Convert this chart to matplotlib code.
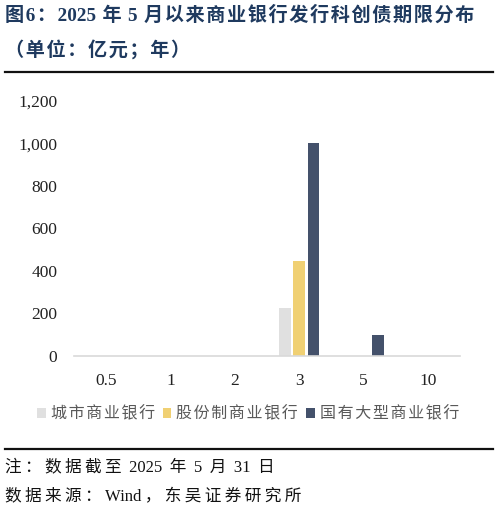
import numpy as np
import matplotlib
matplotlib.use("Agg")
import matplotlib.pyplot as plt
from matplotlib.lines import Line2D

plt.rcParams['font.family'] = ['Liberation Serif', 'Noto Sans CJK SC', 'DejaVu Sans']

# 数据
terms = ['0.5', '1', '2', '3', '5', '10']
city_banks = [0, 0, 0, 227, 0, 0]        # 城市商业银行
joint_stock = [0, 0, 0, 447, 0, 0]       # 股份制商业银行
state_owned = [0, 0, 0, 1000, 100, 0]    # 国有大型商业银行
series_names = ['城市商业银行', '股份制商业银行', '国有大型商业银行']
yticks = [0, 200, 400, 600, 800, 1000, 1200]

colors = ['#e0e0e0', '#f0d073', '#44516b']
navy = '#1f3a5f'


def spaced(s, sp):
    # 中文字符之间加字间距，数字和字母保持紧凑
    out = s[0]
    for a, b in zip(s, s[1:]):
        if not (a.isascii() and b.isascii()):
            out += sp
        out += b
    return out


fig = plt.figure(figsize=(4.99, 5.11), dpi=100)
ax = fig.add_axes([0.148, 0.3033, 0.774, 0.4994])

x = np.arange(len(terms))
w = 0.18
step = 0.222
for i, (vals, c, name) in enumerate(zip([city_banks, joint_stock, state_owned], colors, series_names)):
    ax.bar(x + (i - 1) * step, vals, width=w, color=c, label=spaced(name, '\u200a'), zorder=2)

ax.set_xlim(-0.5, len(terms) - 0.5)
ax.set_ylim(0, 1200)
ax.set_yticks(yticks)
ax.set_yticklabels([f'{v:,}' for v in yticks])
ax.set_xticks(x)
ax.set_xticklabels(terms)
ax.tick_params(axis='both', length=0, labelsize=12.5, labelcolor='#222222')
ax.tick_params(axis='x', pad=12)
ax.tick_params(axis='y', pad=12)
for s in ['top', 'right', 'left']:
    ax.spines[s].set_visible(False)
ax.spines['bottom'].set_color('#d9d9d9')
ax.spines['bottom'].set_linewidth(1.2)

leg = ax.legend(loc='center', bbox_to_anchor=(248 / 499, 1 - 414 / 511),
                bbox_transform=fig.transFigure, ncol=3, frameon=False,
                handlelength=0.55, handleheight=0.55, handletextpad=0.3,
                columnspacing=0.5, prop={'family': ['Noto Sans CJK SC', 'DejaVu Sans'], 'size': 11.5})
for t in leg.get_texts():
    t.set_color('#595959')

# 标题
fig.text(5 / 499, 1 - 15 / 511, spaced('图6：2025 年 5 月以来商业银行发行科创债期限分布', '\u200a'),
         fontsize=13.8, fontweight='bold', color=navy, va='center', ha='left')
fig.text(5 / 499, 1 - 50 / 511, spaced('（单位：亿元；年）', '\u200a'),
         fontsize=13.8, fontweight='bold', color=navy, va='center', ha='left')
fig.add_artist(Line2D([5 / 499, 493 / 499], [1 - 72 / 511] * 2, color='#111111', lw=1.6))
fig.add_artist(Line2D([5 / 499, 493 / 499], [1 - 449 / 511] * 2, color='#111111', lw=1.6))

fig.text(5 / 499, 1 - 467 / 511, spaced('注：数据截至 2025 年 5 月 31 日', '\u2009'),
         fontsize=12, color='#111111', va='center', ha='left')
fig.text(5 / 499, 1 - 497 / 511, spaced('数据来源：Wind，东吴证券研究所', '\u2009'),
         fontsize=12, color='#111111', va='center', ha='left')

fig.savefig('out.png', dpi=100)
